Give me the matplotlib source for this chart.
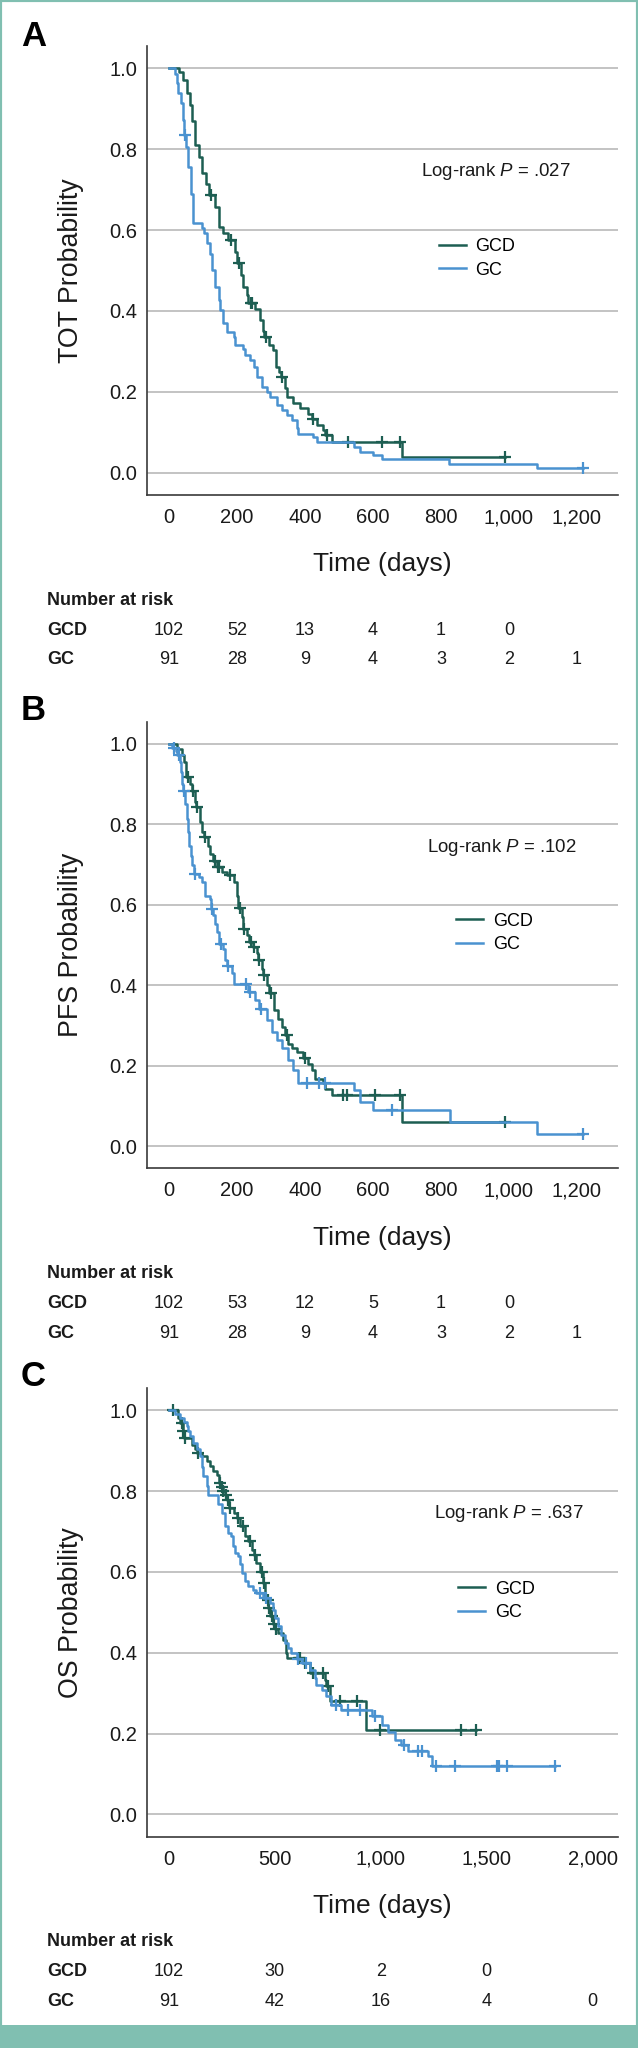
import numpy as np
import matplotlib
matplotlib.use('Agg')
import matplotlib.pyplot as plt
from matplotlib.patches import Rectangle
from matplotlib.transforms import blended_transform_factory

plt.rcParams['font.family'] = ['Liberation Sans', 'DejaVu Sans']
plt.rcParams['mathtext.fontset'] = 'custom'
plt.rcParams['mathtext.it'] = 'Liberation Sans:italic'
plt.rcParams['mathtext.rm'] = 'Liberation Sans'

# --- data (time in days, survival after each step) ---
# A: time on treatment
tot_gcd_time = [30, 42, 52, 61, 69, 77, 87, 97, 110, 118, 136, 146, 160, 175, 195, 200, 212, 219, 230, 233,
                253, 268, 276, 280, 293, 307, 315, 325, 329, 340, 347, 366, 386, 410, 420, 435, 454, 460, 479, 687]
tot_gcd_surv = [0.99, 0.97, 0.94, 0.91, 0.87, 0.81, 0.78, 0.74, 0.715, 0.687, 0.658, 0.608, 0.592, 0.575, 0.545,
                0.518, 0.49, 0.46, 0.44, 0.42, 0.406, 0.377, 0.35, 0.336, 0.316, 0.303, 0.262, 0.25, 0.236, 0.21,
                0.188, 0.172, 0.159, 0.146, 0.134, 0.118, 0.106, 0.093, 0.077, 0.04]
tot_gcd_cens = [123, 183, 206, 240, 244, 285, 334, 425, 464, 528, 626, 680, 989]
tot_gc_time = [18, 23, 28, 35, 41, 45, 51, 57, 64, 72, 97, 102, 111, 121, 126, 136, 146, 150, 160, 170,
               190, 195, 219, 224, 239, 249, 258, 273, 288, 298, 317, 332, 347, 361, 376, 381, 425, 435, 543, 562,
               601, 626, 825, 1082]
tot_gc_surv = [0.987, 0.963, 0.94, 0.913, 0.872, 0.835, 0.806, 0.756, 0.69, 0.617, 0.606, 0.592, 0.567, 0.542,
               0.501, 0.46, 0.427, 0.402, 0.369, 0.349, 0.336, 0.316, 0.305, 0.291, 0.279, 0.262, 0.237, 0.213,
               0.2, 0.188, 0.167, 0.155, 0.143, 0.13, 0.11, 0.097, 0.089, 0.077, 0.064, 0.052, 0.044, 0.033,
               0.022, 0.011]
tot_gc_cens = [48, 1219]

# B: progression-free survival
pfs_gcd_time = [25, 38, 43, 50, 62, 68, 77, 80, 92, 97, 102, 116, 121, 130, 140, 156, 170, 190, 200, 204,
                214, 217, 229, 235, 246, 258, 263, 273, 277, 288, 295, 309, 322, 332, 340, 351, 361, 376, 395, 410,
                420, 430, 454, 459, 479, 687]
pfs_gcd_surv = [0.988, 0.971, 0.954, 0.917, 0.901, 0.884, 0.855, 0.843, 0.805, 0.78, 0.768, 0.747, 0.727, 0.71,
                0.695, 0.681, 0.673, 0.656, 0.623, 0.592, 0.569, 0.54, 0.524, 0.507, 0.495, 0.479, 0.462, 0.441,
                0.425, 0.4, 0.381, 0.338, 0.317, 0.296, 0.276, 0.255, 0.245, 0.234, 0.218, 0.205, 0.189, 0.168,
                0.156, 0.143, 0.126, 0.06]
pfs_gcd_cens = [57, 72, 83, 106, 136, 143, 148, 180, 208, 221, 240, 250, 265, 281, 299, 346, 401, 513, 523,
                606, 680, 989]
pfs_gc_time = [10, 20, 25, 33, 36, 39, 41, 48, 53, 57, 60, 64, 67, 73, 87, 97, 106, 121, 124, 131,
               136, 141, 148, 159, 165, 171, 185, 190, 232, 253, 265, 288, 303, 317, 332, 351, 366, 381, 543, 562,
               601, 827, 1082]
pfs_gc_surv = [0.99, 0.983, 0.971, 0.954, 0.93, 0.9, 0.884, 0.85, 0.814, 0.78, 0.747, 0.72, 0.698, 0.677,
               0.669, 0.656, 0.623, 0.615, 0.59, 0.574, 0.553, 0.532, 0.503, 0.49, 0.462, 0.449, 0.43, 0.404,
               0.383, 0.363, 0.342, 0.313, 0.284, 0.263, 0.243, 0.214, 0.189, 0.156, 0.139, 0.11, 0.089, 0.06,
               0.03]
pfs_gc_cens = [14, 29, 43, 77, 127, 153, 175, 227, 239, 272, 405, 440, 459, 656, 1219]

# C: overall survival
os_gcd_time = [45, 55, 65, 72, 108, 123, 132, 155, 179, 194, 210, 226, 236, 246, 255, 265, 276, 286, 310, 320,
               336, 359, 375, 391, 400, 414, 430, 446, 454, 462, 470, 480, 492, 500, 516, 540, 552, 556, 633, 666,
               736, 744, 760, 933]
os_gcd_surv = [0.981, 0.969, 0.948, 0.932, 0.915, 0.903, 0.895, 0.886, 0.874, 0.861, 0.849, 0.841, 0.82, 0.81,
               0.8, 0.79, 0.779, 0.758, 0.745, 0.734, 0.713, 0.688, 0.676, 0.655, 0.643, 0.622, 0.601, 0.573,
               0.54, 0.53, 0.51, 0.49, 0.47, 0.46, 0.449, 0.432, 0.4, 0.387, 0.375, 0.35, 0.333, 0.317, 0.28, 0.21]
os_gcd_cens = [21, 61, 68, 76, 139, 241, 250, 258, 270, 281, 290, 328, 351, 383, 406, 440, 448, 466, 475, 485,
               497, 505, 614, 619, 645, 681, 729, 750, 807, 886, 996, 1381, 1448]
os_gc_time = [30, 53, 70, 84, 92, 100, 116, 131, 147, 155, 163, 179, 186, 233, 249, 265, 281, 296, 304, 312,
              328, 336, 344, 359, 375, 398, 414, 446, 477, 493, 501, 516, 532, 548, 563, 579, 603, 630, 666, 689,
              697, 721, 744, 768, 815, 957, 1004, 1035, 1067, 1098, 1129, 1224, 1240]
os_gc_surv = [0.99, 0.98, 0.97, 0.96, 0.948, 0.936, 0.919, 0.903, 0.886, 0.86, 0.837, 0.812, 0.791, 0.768,
              0.746, 0.713, 0.696, 0.688, 0.665, 0.647, 0.639, 0.62, 0.598, 0.577, 0.564, 0.556, 0.548, 0.536,
              0.523, 0.507, 0.486, 0.465, 0.445, 0.424, 0.412, 0.4, 0.385, 0.375, 0.358, 0.338, 0.321, 0.309,
              0.292, 0.272, 0.259, 0.243, 0.222, 0.205, 0.185, 0.173, 0.156, 0.144, 0.119]
os_gc_cens = [430, 460, 612, 650, 790, 847, 901, 975, 1110, 1177, 1193, 1263, 1349, 1551, 1558, 1596, 1821]

# number at risk tables
tot_risk_gcd = [102, 52, 13, 4, 1, 0]
tot_risk_gc = [91, 28, 9, 4, 3, 2, 1]
pfs_risk_gcd = [102, 53, 12, 5, 1, 0]
pfs_risk_gc = [91, 28, 9, 4, 3, 2, 1]
os_risk_gcd = [102, 30, 2, 0]
os_risk_gc = [91, 42, 16, 4, 0]

short_ticks = [0, 200, 400, 600, 800, 1000, 1200]
long_ticks = [0, 500, 1000, 1500, 2000]
y_ticks = [0.0, 0.2, 0.4, 0.6, 0.8, 1.0]
p_values = ['.027', '.102', '.637']

GCD_COLOR = '#1d5e52'
GC_COLOR = '#4a92d0'
TEAL = '#80bfb1'
TEXT = '#1a1a1a'

W, H = 638, 2048


def fx(x):
    return x / W


def fy(y):
    return 1 - y / H


fig = plt.figure(figsize=(W / 100, H / 100), dpi=100)


def draw_km(ax, times, surv, cens, color):
    t = np.concatenate([[0.0], times])
    s = np.concatenate([[1.0], surv])
    end = max(t[-1], max(cens))
    t = np.append(t, end)
    s = np.append(s, s[-1])
    line, = ax.step(t, s, where='post', color=color, lw=1.8)
    idx = np.searchsorted(t, cens, side='right') - 1
    ax.plot(cens, s[idx], linestyle='none', marker='+', ms=8, mew=1.6, color=color)
    return line


def draw_panel(letter, top, bottom, ylabel, gcd, gc, pval, pval_xy, leg_xy,
               ticks, xlim, risk_gcd, risk_gc, risk_y):
    ax = fig.add_axes([fx(146.5), fy(bottom), fx(618) - fx(146.5), (bottom - top) / H])
    ax.set_xlim(xlim)
    ax.set_ylim(-0.055, 1.055)
    ax.set_yticks(y_ticks)
    ax.set_yticklabels([f'{v:.1f}' for v in y_ticks])
    ax.set_xticks(ticks)
    ax.set_xticklabels([f'{v:,}' for v in ticks])
    ax.tick_params(length=0, labelsize=14.5, colors=TEXT)
    ax.tick_params(axis='y', pad=6.5)
    ax.tick_params(axis='x', pad=9.5)
    ax.grid(axis='y', color='#b9b9b9', lw=1.2)
    ax.set_axisbelow(True)
    for side in ['top', 'right']:
        ax.spines[side].set_visible(False)
    for side in ['left', 'bottom']:
        ax.spines[side].set_color('#3a3a3a')
        ax.spines[side].set_linewidth(1.2)

    l1 = draw_km(ax, *gcd, GCD_COLOR)
    l2 = draw_km(ax, *gc, GC_COLOR)

    ax.legend([l1, l2], ['GCD', 'GC'], loc='center left', frameon=False,
              bbox_to_anchor=(fx(leg_xy[0]), fy(leg_xy[1])), bbox_transform=fig.transFigure,
              borderpad=0, borderaxespad=0, handlelength=1.5, handletextpad=0.55,
              labelspacing=0.35, fontsize=13)

    fig.text(fx(pval_xy[0]), fy(pval_xy[1]), f'Log-rank $P$ = {pval}', fontsize=13.4,
             ha='left', va='center_baseline', color=TEXT)
    fig.text(fx(21), fy(top - 13.5 if letter == 'A' else top - 14.5), letter, fontsize=25,
             fontweight='bold', ha='left', va='center_baseline', color='black')
    fig.text(fx(71.5), fy((top + bottom) / 2), ylabel, rotation=90, fontsize=19.3,
             ha='center', va='center', color=TEXT)
    fig.text(fx(382.3), fy(bottom + 66.7), 'Time (days)', fontsize=19,
             ha='center', va='center_baseline', color=TEXT)

    trans = blended_transform_factory(ax.transData, fig.transFigure)
    fig.text(fx(47), fy(risk_y[0]), 'Number at risk', fontsize=13, fontweight='bold',
             ha='left', va='center_baseline', color=TEXT)
    for name, row, y in [('GCD', risk_gcd, risk_y[1]), ('GC', risk_gc, risk_y[2])]:
        fig.text(fx(47), fy(y), name, fontsize=13, fontweight='bold',
                 ha='left', va='center_baseline', color=TEXT)
        for xv, n in zip(ticks, row):
            ax.text(xv, fy(y), str(n), transform=trans, fontsize=13,
                    ha='center', va='center_baseline', color=TEXT)
    return ax


draw_panel('A', 46, 495, 'TOT Probability',
           (tot_gcd_time, tot_gcd_surv, tot_gcd_cens), (tot_gc_time, tot_gc_surv, tot_gc_cens),
           p_values[0], (421, 168.3), (438.6, 258.5), short_ticks, (-66, 1321),
           tot_risk_gcd, tot_risk_gc, (598.3, 628.3, 657))
draw_panel('B', 721.7, 1168.3, 'PFS Probability',
           (pfs_gcd_time, pfs_gcd_surv, pfs_gcd_cens), (pfs_gc_time, pfs_gc_surv, pfs_gc_cens),
           p_values[1], (427, 844), (455.7, 932.7), short_ticks, (-66, 1321),
           pfs_risk_gcd, pfs_risk_gc, (1271.7, 1301.7, 1331.7))
draw_panel('C', 1388, 1836.7, 'OS Probability',
           (os_gcd_time, os_gcd_surv, os_gcd_cens), (os_gc_time, os_gc_surv, os_gc_cens),
           p_values[2], (434.5, 1510.8), (457.7, 1600.8), long_ticks, (-105, 2120),
           os_risk_gcd, os_risk_gc, (1940, 1970, 2000))

# teal frame and bottom band
fig.patches.append(Rectangle((0, 0), 1, 1, transform=fig.transFigure, fill=False,
                             edgecolor=TEAL, lw=3))
fig.patches.append(Rectangle((0, 0), 1, (H - 2025) / H, transform=fig.transFigure,
                             facecolor=TEAL, edgecolor='none'))

fig.savefig('out.png', dpi=100)
